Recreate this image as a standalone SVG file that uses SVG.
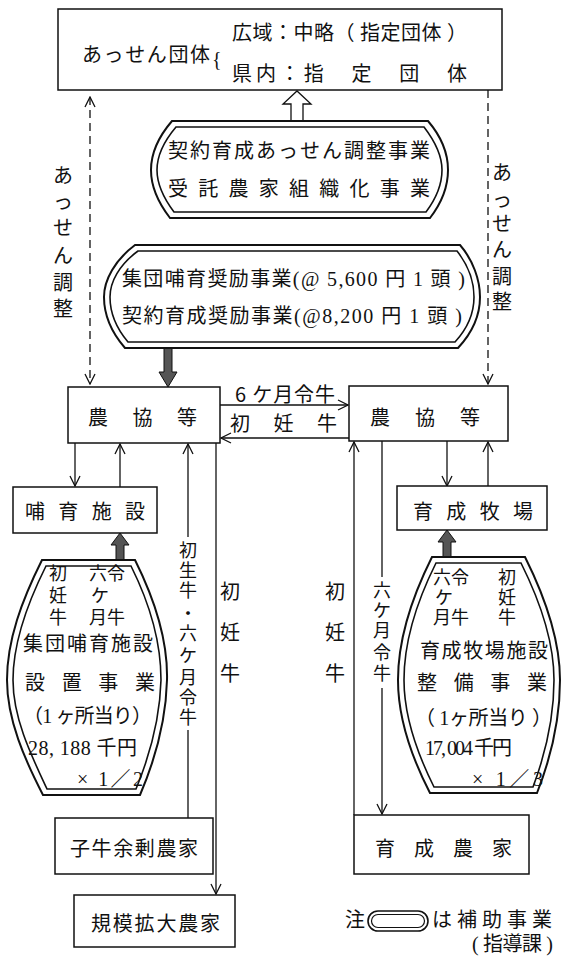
<svg xmlns="http://www.w3.org/2000/svg" width="562" height="959" viewBox="0 0 562 959">
<style>
.t{font-family:"Noto Sans CJK JP","Noto Sans CJK SC",sans-serif;font-size:20px;fill:#111}
.n{font-family:"Liberation Serif","Noto Sans CJK JP",serif;font-size:20px;fill:#111}
.v{font-size:18px}
.box{fill:#fff;stroke:#111;stroke-width:1.5}
.dbl{fill:#fff;stroke:#111;stroke-width:2}
.in{fill:none;stroke:#111;stroke-width:1.6}
.ln{fill:none;stroke:#111;stroke-width:1.3}
.dash{stroke-dasharray:8 5}
.thick{fill:#555;stroke:#111;stroke-width:1}
.m{text-anchor:middle}
</style>
<defs>
<marker id="arr" viewBox="0 0 12 12" refX="11" refY="6" markerWidth="12" markerHeight="12" markerUnits="userSpaceOnUse" orient="auto-start-reverse">
<path d="M1,1 L11,6 L1,11" fill="none" stroke="#111" stroke-width="1.3"/>
</marker>
</defs>
<rect width="562" height="959" fill="#fff"/>

<g id="connectors">
<path class="ln dash" d="M90,97 V384" marker-start="url(#arr)" marker-end="url(#arr)"/>
<path class="ln dash" d="M488,90 V384" marker-end="url(#arr)"/>
<path class="ln" d="M220,405 H348" marker-end="url(#arr)"/>
<path class="ln" d="M349,438 H221" marker-end="url(#arr)"/>
<path class="ln" d="M75,443 V486" marker-end="url(#arr)"/>
<path class="ln" d="M120,487 V444" marker-end="url(#arr)"/>
<path class="ln" d="M188,818 V730 M188,537 V444" marker-end="url(#arr)"/>
<path class="ln" d="M216,443 V894" marker-end="url(#arr)"/>
<path class="ln" d="M354,815 V442" marker-end="url(#arr)"/>
<path class="ln" d="M382,441 V577 M382,688 V814" marker-end="url(#arr)"/>
<path class="ln" d="M447,441 V486" marker-end="url(#arr)"/>
<path class="ln" d="M488,487 V442" marker-end="url(#arr)"/>
<polygon points="291,121 291,104 283,104 297,91 311,104 303,104 303,121" fill="#fff" stroke="#111" stroke-width="1.3"/>
<polygon class="thick" points="164,348 164,372 159,372 168,387 177,372 172,372 172,348"/>
<polygon class="thick" points="116,560 116,545 111,545 120,533 129,545 124,545 124,560"/>
<polygon class="thick" points="443,557 443,542 438,542 447,530 456,542 451,542 451,557"/>
<text class="t m" font-size="19"><tspan x="63" y="183">あ</tspan><tspan x="63" y="209">っ</tspan><tspan x="63" y="235">せ</tspan><tspan x="63" y="263">ん</tspan><tspan x="63" y="290">調</tspan><tspan x="63" y="316">整</tspan></text>
<text class="t m" font-size="19"><tspan x="502" y="180">あ</tspan><tspan x="502" y="207">っ</tspan><tspan x="502" y="231">せ</tspan><tspan x="502" y="257">ん</tspan><tspan x="502" y="284">調</tspan><tspan x="502" y="309">整</tspan></text>
<text class="t" x="235" y="402" textLength="100">6 ケ月令牛</text>
<text class="t" x="230" y="431" textLength="107">初　妊　牛</text>
<text class="t v m"><tspan x="188" y="557">初</tspan><tspan x="188" y="577">生</tspan><tspan x="188" y="597">牛</tspan><tspan x="188" y="620">・</tspan><tspan x="188" y="640">六</tspan><tspan x="188" y="662">ケ</tspan><tspan x="188" y="684">月</tspan><tspan x="188" y="704">令</tspan><tspan x="188" y="724">牛</tspan></text>
<text class="t m"><tspan x="230" y="599">初</tspan><tspan x="230" y="640">妊</tspan><tspan x="230" y="681">牛</tspan></text>
<text class="t m"><tspan x="335" y="599">初</tspan><tspan x="335" y="640">妊</tspan><tspan x="335" y="681">牛</tspan></text>
<text class="t v m"><tspan x="382" y="597">六</tspan><tspan x="382" y="617">ケ</tspan><tspan x="382" y="637">月</tspan><tspan x="382" y="659">令</tspan><tspan x="382" y="680">牛</tspan></text>
</g>

<g id="assen">
<rect class="box" x="58" y="9" width="444" height="81"/>
<text class="t" x="82" y="62" textLength="128">あっせん団体</text>
<text class="n" x="212" y="66" font-size="40">{</text>
<text class="t" x="232" y="40" textLength="235">広域：中略（ 指定団体 ）</text>
<text class="t" x="232" y="81" textLength="235">県内：指　定　団　体</text>
</g>

<g id="chousei">
<path class="dbl" d="M172,121 H428 C440,135 448,152 448,170 C448,188 440,205 430,218 H170 C160,205 151,188 151,170 C151,152 160,135 172,121 Z"/>
<path class="in" d="M176,127 H424 C434,140 442,155 442,170 C442,185 435,200 426,212 H174 C165,200 157,185 157,170 C157,155 165,140 176,127 Z"/>
<text class="t" x="168" y="158" font-size="22" textLength="262">契約育成あっせん調整事業</text>
<text class="t" x="168" y="196" font-size="22" textLength="262">受 託 農 家 組 織 化 事 業</text>
</g>

<g id="shourei">
<path class="dbl" d="M135,245 H460 C473,260 480,280 480,297 C480,315 472,333 458,348 H125 C112,333 104,315 104,297 C104,280 115,260 135,245 Z"/>
<path class="in" d="M138,251 H457 C468,265 474,282 474,297 C474,313 467,329 455,342 H128 C117,329 110,313 110,297 C110,282 119,265 138,251 Z"/>
<text class="n" x="122" y="286" font-size="21" textLength="343">集団哺育奨励事業(@ 5,600 円 1 頭 )</text>
<text class="n" x="122" y="323" font-size="21" textLength="340">契約育成奨励事業(@8,200 円 1 頭 )</text>
</g>

<g id="noukyou-left">
<rect class="box" x="68" y="387" width="152" height="56"/>
<text class="t" x="88" y="425" textLength="109">農　協　等</text>
</g>

<g id="noukyou-right">
<rect class="box" x="349" y="386" width="159" height="55"/>
<text class="t" x="370" y="425" textLength="110">農　協　等</text>
</g>

<g id="hoiku">
<rect class="box" x="13" y="487" width="144" height="46"/>
<text class="t" x="25" y="519" textLength="120">哺 育 施 設</text>
</g>

<g id="bokujou">
<rect class="box" x="397" y="486" width="150" height="44"/>
<text class="t" x="413" y="519" textLength="120">育 成 牧 場</text>
</g>

<g id="hoiku-jigyou">
<path class="dbl" d="M42,560 H135 C155,600 168,640 167,680 C166,720 155,760 140,795 H43 C25,760 7,720 7,680 C7,640 22,600 42,560 Z"/>
<path class="in" d="M46,566 H131 C150,604 161,642 161,680 C160,718 150,755 136,789 H47 C31,755 13,718 13,680 C13,642 27,604 46,566 Z"/>
<text class="t v m"><tspan x="58" y="580">初</tspan><tspan x="58" y="602">妊</tspan><tspan x="58" y="624">牛</tspan></text>
<text class="t v" x="89" y="580">六令</text>
<text class="t v" x="91" y="602">ケ</text>
<text class="t v" x="89" y="624">月牛</text>
<text class="t" x="23" y="651" font-size="21" textLength="130">集団哺育施設</text>
<text class="t" x="25" y="690" font-size="21" textLength="130">設　置　事　業</text>
<text class="n" x="23" y="723" font-size="21" textLength="129">（1 ヶ所当り）</text>
<text class="n" x="28" y="755" font-size="21" textLength="109">28, 188 千円</text>
<text class="n" x="77" y="786" font-size="21" textLength="66">× 1／2</text>
</g>

<g id="bokujou-jigyou">
<path class="dbl" d="M432,557 H525 C545,597 560,640 560,680 C560,720 550,760 537,793 H430 C413,760 398,720 398,680 C398,640 412,597 432,557 Z"/>
<path class="in" d="M436,563 H521 C540,601 554,642 554,680 C554,718 545,755 533,787 H434 C418,755 404,718 404,680 C404,642 417,601 436,563 Z"/>
<text class="t v" x="433" y="584">六令</text>
<text class="t v" x="435" y="604">ケ</text>
<text class="t v" x="433" y="624">月牛</text>
<text class="t v m"><tspan x="507" y="584">初</tspan><tspan x="507" y="604">妊</tspan><tspan x="507" y="624">牛</tspan></text>
<text class="t" x="420" y="658" font-size="21" textLength="128">育成牧場施設</text>
<text class="t" x="417" y="690" font-size="21" textLength="130">整　備　事　業</text>
<text class="n" x="415" y="725" font-size="21" textLength="137">（ 1ヶ所当り ）</text>
<text class="n" x="425" y="755" font-size="17" textLength="87">17, 004 千円</text>
<text class="n" x="472" y="786" font-size="21" textLength="71">× 1／3</text>
</g>

<g id="koushi-nouka">
<rect class="box" x="55" y="818" width="158" height="56"/>
<text class="t" x="70" y="856" textLength="128">子牛余剰農家</text>
</g>

<g id="kibo-nouka">
<rect class="box" x="74" y="895" width="161" height="52"/>
<text class="t" x="91" y="931" textLength="129">規模拡大農家</text>
</g>

<g id="ikusei-nouka">
<rect class="box" x="354" y="815" width="175" height="59"/>
<text class="t" x="375" y="856" textLength="137">育　成　農　家</text>
</g>

<g id="legend">
<text class="t" x="345" y="927" font-size="18">注</text>
<rect x="368" y="911" width="60" height="20" rx="10" fill="#fff" stroke="#111" stroke-width="1.6"/>
<rect x="371.5" y="914.5" width="53" height="13" rx="6.5" fill="none" stroke="#111" stroke-width="1.2"/>
<text class="t" x="432" y="927" textLength="120">は補助事業</text>
<text class="n" x="472" y="951" font-size="18" textLength="81">( 指導課 )</text>
</g>
</svg>
